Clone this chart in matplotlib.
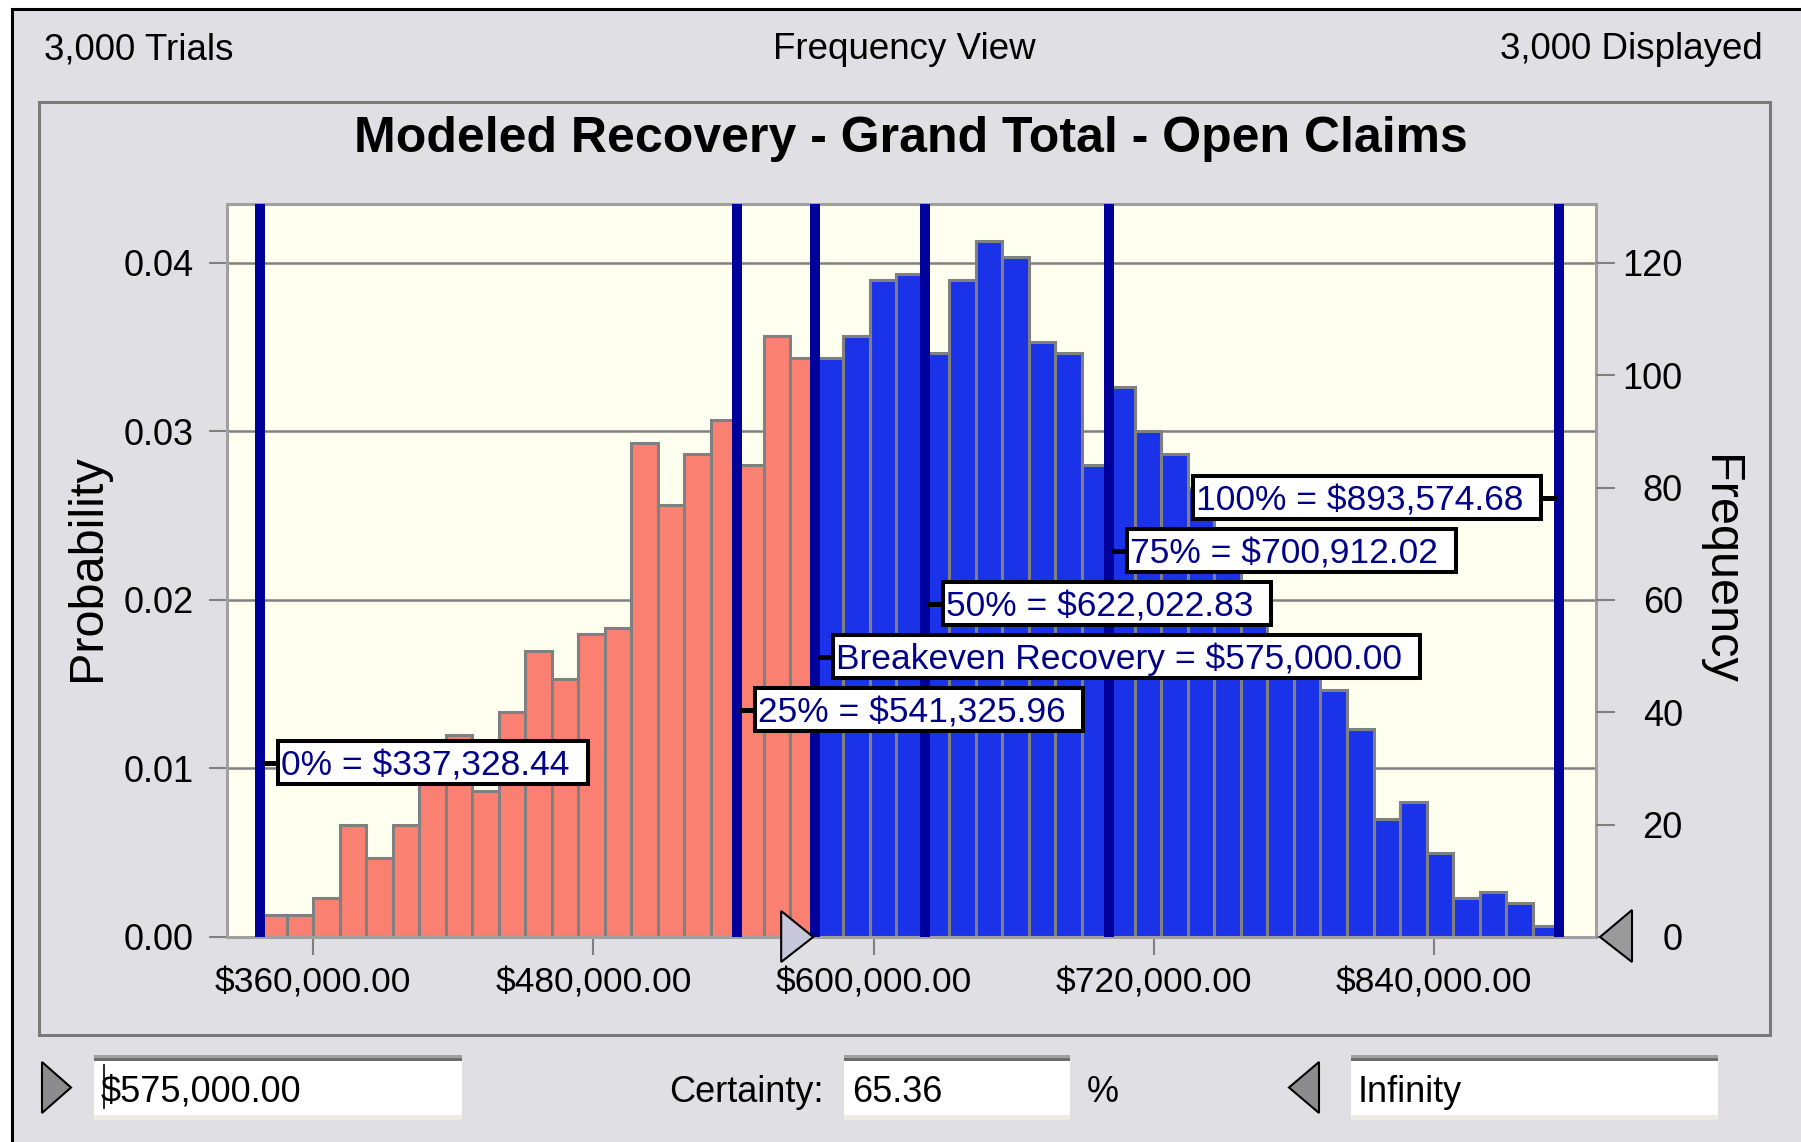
import matplotlib
matplotlib.use("Agg")
import matplotlib.pyplot as plt
import numpy as np
from matplotlib.patches import Rectangle, Polygon
from matplotlib.lines import Line2D

# ---- data ----
TRIALS = 3000
N_BINS = 49
RANGE_MIN = 337328.44
RANGE_MAX = 893574.68
BREAKEVEN = 575000.00
CERTAINTY = 65.36

# trials per bin, left to right
bin_counts = [4, 4, 7, 20, 14, 20, 30, 36, 26, 40, 51, 46, 54, 55, 88, 77, 86,
              92, 84, 107, 103, 103, 107, 117, 118, 104, 117, 124, 121, 106,
              104, 84, 98, 90, 86, 80, 71, 62, 52, 48, 44, 37, 21, 24, 15, 7,
              8, 6, 2]

marker_names = ["0%", "25%", "Breakeven Recovery", "50%", "75%", "100%"]
marker_values = [337328.44, 541325.96, 575000.00, 622022.83, 700912.02, 893574.68]

x_ticks = [360000, 480000, 600000, 720000, 840000]
prob_ticks = [0.00, 0.01, 0.02, 0.03, 0.04]
freq_ticks = [0, 20, 40, 60, 80, 100, 120]

TITLE = "Modeled Recovery - Grand Total - Open Claims"

# ---- look ----
W, H = 1801, 1142
BG = "#E0DFE3"
PLOT_BG = "#FFFFF0"
SALMON = "#FA8072"
BLUE = "#1A33E8"
EDGE = "#808080"
NAVY = "#00009A"
LABEL_NAVY = "#000088"
LABEL_SIZE = 25.5

plt.rcParams["font.family"] = ["Liberation Sans", "DejaVu Sans"]


def fx(x):
    return x / W


def fy(y):
    return 1 - y / H


def triangle(fig, pts, fc):
    """pts in figure pixels, origin top-left"""
    poly = Polygon([(fx(x), fy(y)) for x, y in pts], closed=True, fc=fc,
                   ec="black", lw=1.5, transform=fig.transFigure, zorder=6)
    fig.add_artist(poly)


def text_field(fig, x0, x1, text, tx):
    """sunken white entry box of the Windows dialog"""
    y0, y1 = 1055, 1120
    fig.add_artist(Rectangle((fx(x0), fy(y1)), (x1 - x0) / W, (y1 - y0) / H,
                             fc="white", ec="none", transform=fig.transFigure))
    fig.add_artist(Rectangle((fx(x0), fy(y0 + 3)), (x1 - x0) / W, 3 / H,
                             fc="#A0A0A0", ec="none", transform=fig.transFigure))
    fig.add_artist(Rectangle((fx(x0), fy(y0 + 6)), (x1 - x0) / W, 3 / H,
                             fc="#6E6E6E", ec="none", transform=fig.transFigure))
    fig.add_artist(Rectangle((fx(x0), fy(y1)), (x1 - x0) / W, 5 / H,
                             fc="#EFEDE3", ec="none", transform=fig.transFigure))
    fig.text(fx(tx), fy(1102), text, ha="left", va="baseline", fontsize=26)


fig = plt.figure(figsize=(W / 100, H / 100), dpi=100, facecolor="white")

# window background with black frame on top/left
fig.add_artist(Rectangle((fx(12), -0.2), 1.3, fy(9) + 0.2, fc=BG, ec="black",
                         lw=2.2, transform=fig.transFigure, zorder=-2))
# inner chart panel
fig.add_artist(Rectangle((fx(39), fy(1035)), (1770 - 39) / W, (1035 - 102) / H,
                         fc="none", ec="#7A7A7A", lw=2.2,
                         transform=fig.transFigure, zorder=-1))

fig.text(fx(44), fy(59), f"{TRIALS:,} Trials", ha="left", va="baseline", fontsize=26.5)
fig.text(fx(904), fy(59), "Frequency View", ha="center", va="baseline", fontsize=26.5)
fig.text(fx(1763), fy(59), f"{TRIALS:,} Displayed", ha="right", va="baseline", fontsize=26.5)
fig.text(fx(911), fy(152), TITLE, ha="center", va="baseline", fontsize=36,
         fontweight="bold")

ax = fig.add_axes([fx(227), fy(937), (1596 - 227) / W, (937 - 204) / H])
ax.set_facecolor(PLOT_BG)
ax.set_xlim(323100, 909400)
ax.set_ylim(0, 0.0435)

# histogram, split in colour at the breakeven value
edges = np.linspace(RANGE_MIN, RANGE_MAX, N_BINS + 1)
prob = np.array(bin_counts) / TRIALS
lefts, rights = edges[:-1], edges[1:]

lo_r = np.minimum(rights, BREAKEVEN)
m = lo_r > lefts
ax.bar(lefts[m], prob[m], width=(lo_r - lefts)[m], align="edge", color=SALMON,
       edgecolor=EDGE, linewidth=2.2, zorder=2)
hi_l = np.maximum(lefts, BREAKEVEN)
m = rights > hi_l
ax.bar(hi_l[m], prob[m], width=(rights - hi_l)[m], align="edge", color=BLUE,
       edgecolor=EDGE, linewidth=2.2, zorder=2)

for v in marker_values:
    ax.axvline(v, color=NAVY, lw=7.2, zorder=3)

ax.set_axisbelow(True)
ax.yaxis.grid(True, color="#808080", lw=1.8)
ax.set_yticks(prob_ticks)
ax.set_yticklabels([f"{v:.2f}" for v in prob_ticks])
ax.set_xticks(x_ticks)
ax.set_xticklabels([f"${v:,.2f}" for v in x_ticks])
ax.tick_params(axis="x", direction="out", length=13, width=1.5, color="#808080",
               labelsize=25.5, pad=8)
ax.tick_params(axis="y", direction="out", length=13, width=1.5, color="#808080",
               labelsize=26, pad=11)
for s in ax.spines.values():
    s.set_color("#A0A0A0")
    s.set_linewidth(2.2)

ax2 = ax.twinx()
ax2.set_ylim(0, 0.0435 * TRIALS)
ax2.set_yticks(freq_ticks)
ax2.set_yticklabels([str(v) for v in freq_ticks])
ax2.tick_params(axis="y", direction="out", length=13.5, width=1.5, color="#808080",
                labelsize=26, pad=49)
plt.setp(ax2.get_yticklabels(), ha="right")
for s in ax2.spines.values():
    s.set_visible(False)

fig.text(fx(88), fy(568), "Probability", rotation=90, ha="center", va="center",
         fontsize=35)
fig.text(fx(1719), fy(570), "Frequency", rotation=270, ha="center", va="center",
         fontsize=35)

# percentile / breakeven call-out boxes
renderer = fig.canvas.get_renderer()
em = LABEL_SIZE * 100 / 72
for i, (name, value) in enumerate(zip(marker_names, marker_values)):
    level = 0.01033 + i * 0.00315
    lx, ly = ax.transData.transform((value, level))
    side = -1 if value == max(marker_values) else 1
    label = f"{name} = ${value:,.2f}"
    base = ly - 0.358 * em
    if side == 1:
        box_l = lx + 16
        t = fig.text((box_l + 5) / W, base / H, label, ha="left", va="baseline",
                     fontsize=LABEL_SIZE, color=LABEL_NAVY, zorder=5)
        w = t.get_window_extent(renderer).width
        box_r = box_l + 5 + w + 20
        near = box_l
    else:
        box_r = lx - 16
        t = fig.text((box_r - 20) / W, base / H, label, ha="right", va="baseline",
                     fontsize=LABEL_SIZE, color=LABEL_NAVY, zorder=5)
        w = t.get_window_extent(renderer).width
        box_l = box_r - 20 - w - 5
        near = box_r
    fig.add_artist(Rectangle(((box_l + 2) / W, (ly - 21.5) / H),
                             (box_r - box_l - 4) / W, 43 / H, fc="white",
                             ec="black", lw=2.9, transform=fig.transFigure,
                             zorder=4))
    fig.add_artist(Line2D([(lx + side * 5) / W, near / W], [ly / H, ly / H],
                          color="black", lw=3.6, transform=fig.transFigure,
                          zorder=3.5))

# sliders on the axis
bx, by = ax.transData.transform((BREAKEVEN, 0))
tip = bx - 2
ay = H - by
triangle(fig, [(tip - 32, ay - 26), (tip - 32, ay + 25), (tip, ay)], "#C8C8DC")
rx, _ = ax.transAxes.transform((1, 0))
triangle(fig, [(rx + 36, ay - 27), (rx + 36, ay + 25), (rx + 4, ay)], "#9A9A9A")

# bottom certainty controls
triangle(fig, [(42, 1062), (42, 1113), (71, 1087.5)], "#8C8C8C")
text_field(fig, 94, 462, f"${BREAKEVEN:,.2f}", 101)
fig.add_artist(Line2D([fx(104), fx(104)], [fy(1065), fy(1108)], color="black",
                      lw=1.2, transform=fig.transFigure))
fig.text(fx(824), fy(1102), "Certainty:", ha="right", va="baseline", fontsize=26)
text_field(fig, 844, 1070, f"{CERTAINTY:.2f}", 852)
fig.text(fx(1087), fy(1102), "%", ha="left", va="baseline", fontsize=26)
triangle(fig, [(1319, 1062), (1319, 1113), (1289, 1087.5)], "#8C8C8C")
text_field(fig, 1351, 1718, "Infinity", 1358)

fig.savefig("out.png", dpi=100, facecolor="white")
